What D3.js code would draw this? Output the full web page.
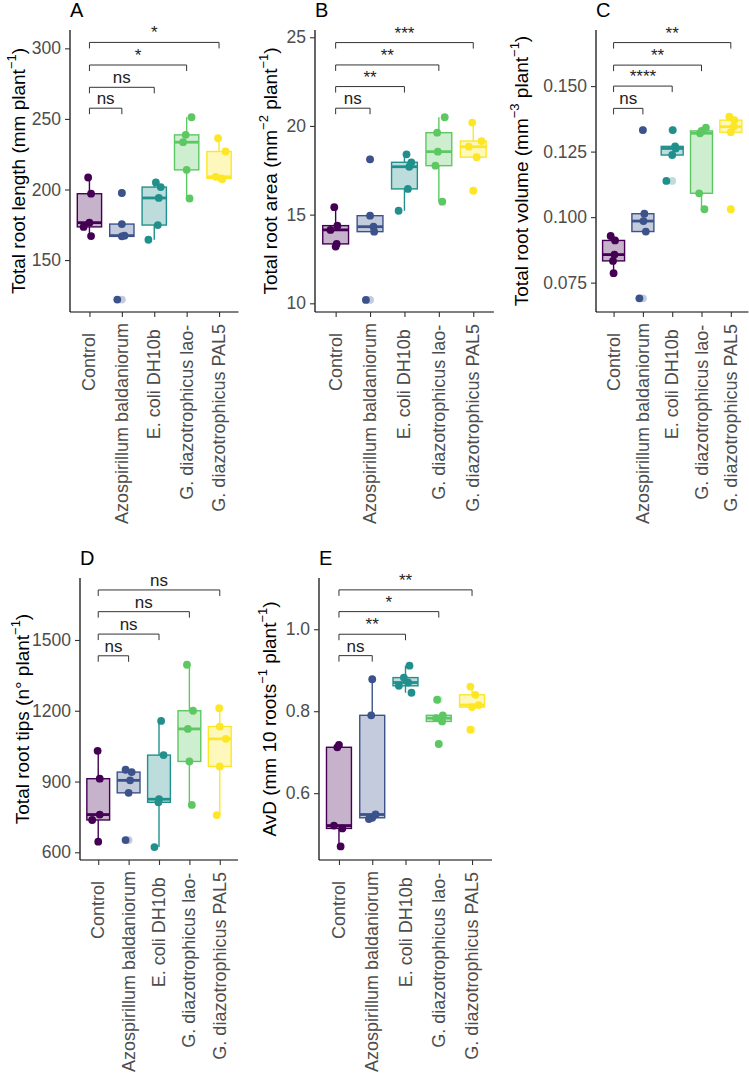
<!DOCTYPE html>
<html><head><meta charset="utf-8">
<script src="https://cdn.jsdelivr.net/npm/d3@7"></script>
<style>body{margin:0;background:#fff}svg{display:block}text{font-family:"Liberation Sans",Arial,sans-serif}</style>
</head><body>
<svg id="chart" width="749" height="1077"></svg>
<script>
const categories = ["Control","Azospirillum baldaniorum","E. coli DH10b","G. diazotrophicus lao-","G. diazotrophicus PAL5"];
const colors = ["#440154","#3B528B","#21908C","#5DC863","#FDE725"];

// Panel A: total root length
const lengthValues = [[208.5,197,176.5,173.5,167],[197.5,175.5,167.3,166.8,122],[205,201.7,194,174.8,164.4],[251.2,238.7,233.5,213.9,193.6],[236.3,226.9,209,207.8,207.4]];
const lengthJitter = [[-0.04,0.05,0,-0.18,0.05],[0,0,0.08,0,-0.14],[0.05,0.2,0.14,0.11,-0.18],[0.15,-0.03,-0.11,0,0.09],[-0.03,0.2,-0.1,0.07,0.1]];
const lengthTicks = [150,200,250,300];
const lengthBrackets = [[1,257.6,"ns"],[2,272.4,"ns"],[3,288.2,"*"],[4,304.2,"*"]];

// Panel B: total root area
const areaValues = [[15.42,14.38,14.14,13.35,13.2],[18.12,14.94,14.32,14.04,10.19],[18.4,17.95,17.7,16.45,15.22],[20.49,19.62,18.55,17.76,15.73],[20.19,19.15,18.83,18.24,16.35]];
const areaJitter = [[-0.04,0.05,-0.15,0.03,0],[0,0,0.1,0.12,-0.12],[0.06,0.2,0.14,0.1,-0.17],[0.17,-0.05,-0.03,-0.1,0.1],[-0.03,0.24,-0.13,0.1,0]];
const areaTicks = [10,15,20,25];
const areaBrackets = [[1,21.0,"ns"],[2,22.22,"**"],[3,23.44,"**"],[4,24.7,"***"]];

// Panel C: total root volume
const volumeValues = [[0.0928,0.0911,0.0857,0.0833,0.0786],[0.1332,0.1013,0.0985,0.0945,0.069],[0.1332,0.127,0.1262,0.1237,0.1138],[0.1341,0.1329,0.132,0.1091,0.103],[0.1383,0.137,0.1345,0.1324,0.103]];
const volumeJitter = [[-0.1,0.05,0.03,-0.02,0],[0,0.05,0.02,0.1,-0.12],[0.02,0.1,0.12,0,-0.2],[0.15,0,-0.05,-0.08,0.1],[-0.05,0.12,0.1,0,0]];
const volumeTicks = [0.075,0.100,0.125,0.150];
const volumeBrackets = [[1,0.1415,"ns"],[2,0.150,"****"],[3,0.158,"**"],[4,0.1666,"**"]];

// Panel D: total root tips
const tipsValues = [[1030,912,760,737,645],[950,940,905,852,652],[1157,1012,825,812,622],[1395,1200,1123,985,801],[1211,1133,1081,964,758]];
const tipsJitter = [[-0.02,0.05,0.05,-0.2,0],[-0.1,0.1,0.05,0,-0.1],[0.07,0.15,0,-0.02,-0.15],[-0.08,0.12,-0.05,0,0.08],[-0.02,0,0.2,0,-0.1]];
const tipsTicks = [600,900,1200,1500];
const tipsBrackets = [[1,1433,"ns"],[2,1525,"ns"],[3,1620,"ns"],[4,1712,"ns"]];

// Panel E: AvD
const avdValues = [[0.718,0.712,0.521,0.514,0.47],[0.878,0.79,0.548,0.54,0.537],[0.911,0.882,0.87,0.862,0.845],[0.828,0.79,0.783,0.775,0.72],[0.86,0.84,0.815,0.81,0.755]];
const avdJitter = [[0,-0.05,-0.15,0.1,0.05],[0,-0.03,0.1,0,-0.1],[0.12,-0.05,0.08,-0.2,0.18],[-0.05,0.12,-0.08,0.1,0],[-0.05,0.1,0.2,0,-0.05]];
const avdTicks = [0.6,0.8,1.0];
const avdBrackets = [[1,0.9356,"ns"],[2,0.9878,"**"],[3,1.043,"*"],[4,1.096,"**"]];

const panels = [
  {letter:"A", values:lengthValues, jitter:lengthJitter, ticks:lengthTicks, brackets:lengthBrackets, fmt:d3.format("d"),
   title:[["Total root length (mm plant",0],["−1",1],[")",0]], x0:70, x1:238.5, top:30, bottom:312, domain:[113.2,313], titleX:18},
  {letter:"B", values:areaValues, jitter:areaJitter, ticks:areaTicks, brackets:areaBrackets, fmt:d3.format("d"),
   title:[["Total root area (mm",0],["−2",1],[" plant",0],["−1",1],[")",0]], x0:315, x1:493.9, top:30, bottom:312, domain:[9.51,25.41], titleX:270},
  {letter:"C", values:volumeValues, jitter:volumeJitter, ticks:volumeTicks, brackets:volumeBrackets, fmt:d3.format(".3f"),
   title:[["Total root volume (mm",0],["−3",1],[" plant",0],["−1",1],[")",0]], x0:596, x1:748.4, top:30, bottom:312, domain:[0.0638,0.1714], titleX:521},
  {letter:"D", values:tipsValues, jitter:tipsJitter, ticks:tipsTicks, brackets:tipsBrackets, fmt:d3.format("d"),
   title:[["Total root tips (n° plant",0],["−1",1],[")",0]], x0:80, x1:238, top:578, bottom:860, domain:[567.4,1762.7], titleX:22},
  {letter:"E", values:avdValues, jitter:avdJitter, ticks:avdTicks, brackets:avdBrackets, fmt:d3.format(".1f"),
   title:[["AvD (mm 10 roots",0],["−1",1],[" plant",0],["−1",1],[")",0]], x0:319, x1:492, top:578, bottom:860, domain:[0.437,1.125], titleX:269}
];

const svg = d3.select("#chart");
const TICK_FS = 17.5, TITLE_FS = 19, XLAB_FS = 18;

function boxStats(vals){
  const s = vals.slice().sort(d3.ascending);
  const q1 = d3.quantile(s,0.25), med = d3.quantile(s,0.5), q3 = d3.quantile(s,0.75);
  const iqr = q3-q1, lo = q1-1.5*iqr, hi = q3+1.5*iqr;
  const inside = s.filter(v=>v>=lo && v<=hi);
  return {q1,med,q3,wlo:d3.min(inside),whi:d3.max(inside),out:s.filter(v=>v<lo||v>hi)};
}

panels.forEach(p=>{
  const g = svg.append("g");
  const x = d3.scalePoint().domain(categories).range([p.x0,p.x1]).padding(0.6);
  const step = x.step();
  const y = d3.scaleLinear().domain(p.domain).range([p.bottom,p.top]);
  const bw = step*0.75;

  // axes
  const ya = g.append("g").attr("transform",`translate(${p.x0},0)`)
    .call(d3.axisLeft(y).tickValues(p.ticks).tickFormat(p.fmt).tickSize(5).tickPadding(4));
  ya.select(".domain").attr("d",`M0,${p.top}V${p.bottom}`);
  const xa = g.append("g").attr("transform",`translate(0,${p.bottom})`)
    .call(d3.axisBottom(x).tickSize(5).tickFormat(""));
  xa.select(".domain").attr("d",`M${p.x0},0H${p.x1}`);
  g.selectAll(".domain").attr("stroke","#000").attr("stroke-width",1.2);
  g.selectAll(".tick line").attr("stroke","#333").attr("stroke-width",1.1);
  ya.selectAll(".tick text").attr("font-size",TICK_FS).attr("fill","#4d4d4d").attr("font-family","Liberation Sans, Arial, sans-serif");

  // x labels rotated
  categories.forEach(c=>{
    const t = g.append("text").attr("font-size",XLAB_FS).attr("fill","#4d4d4d").text(c)
      .attr("text-anchor","start").attr("dominant-baseline","central");
    const L = t.node().getComputedTextLength();
    const A = p.bottom+25;
    const bottomY = A + 0.93*L;
    t.attr("transform",`translate(${x(c)},${bottomY}) rotate(-90)`);
  });

  // y title
  const tt = g.append("text").attr("font-size",TITLE_FS).attr("fill","#000")
    .attr("text-anchor","middle")
    .attr("transform",`translate(${p.titleX},${(p.top+p.bottom)/2}) rotate(-90)`)
    .attr("dominant-baseline","central");
  let up=false;
  p.title.forEach(([s,sup])=>{
    const ts = tt.append("tspan").text(s);
    if(sup){ ts.attr("font-size",13).attr("dy",-7); up=true; }
    else if(up){ ts.attr("dy",7); up=false; }
  });

  // letter
  g.append("text").attr("x",p.x0).attr("y",p.top-13).attr("font-size",20).attr("fill","#000").text(p.letter);

  // boxes
  p.values.forEach((vals,i)=>{
    const c = categories[i], cx = x(c), col = colors[i];
    const st = boxStats(vals);
    g.append("line").attr("x1",cx).attr("x2",cx).attr("y1",y(st.q3)).attr("y2",y(st.whi)).attr("stroke",col).attr("stroke-width",1.4);
    g.append("line").attr("x1",cx).attr("x2",cx).attr("y1",y(st.q1)).attr("y2",y(st.wlo)).attr("stroke",col).attr("stroke-width",1.4);
    g.append("rect").attr("x",cx-bw/2).attr("width",bw).attr("y",y(st.q3)).attr("height",Math.max(0.5,y(st.q1)-y(st.q3)))
      .attr("fill",col).attr("fill-opacity",0.3).attr("stroke",col).attr("stroke-width",1.4);
    g.append("line").attr("x1",cx-bw/2).attr("x2",cx+bw/2).attr("y1",y(st.med)).attr("y2",y(st.med)).attr("stroke",col).attr("stroke-width",2.8);
    st.out.forEach(v=>{
      g.append("circle").attr("cx",cx).attr("cy",y(v)).attr("r",3.9).attr("fill",col).attr("fill-opacity",0.3);
    });
    vals.forEach((v,j)=>{
      g.append("circle").attr("cx",cx+p.jitter[i][j]*step).attr("cy",y(v)).attr("r",3.9).attr("fill",col);
    });
  });

  // brackets
  p.brackets.forEach(([k,yv,lab])=>{
    const xa0 = x(categories[0]), xb = x(categories[k]), yy = y(yv);
    g.append("path").attr("d",`M${xa0},${yy+6}V${yy}H${xb}V${yy+6}`).attr("fill","none").attr("stroke","#333").attr("stroke-width",1);
    g.append("text").attr("x",(xa0+xb)/2).attr("y",yy-4).attr("text-anchor","middle").attr("font-size",17).attr("fill","#222").text(lab);
  });
});
</script>
</body></html>
